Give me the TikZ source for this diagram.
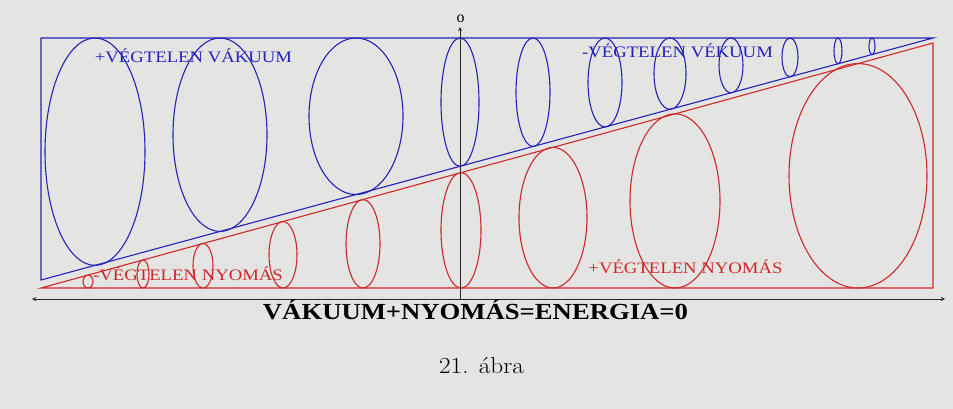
\documentclass[tikz,border=0pt]{standalone}
\usepackage{fontspec}
\setmainfont{Liberation Serif}
\newfontfamily\abrafont{Latin Modern Roman}
\definecolor{vakblue}{RGB}{35,35,185}
\definecolor{nyored}{RGB}{205,40,40}
\definecolor{paper}{RGB}{228,228,226}

\begin{document}
\begin{tikzpicture}[
    x=1pt, y=-1pt,
    vac/.style={draw=vakblue, line width=1.1pt},
    pres/.style={draw=nyored, line width=1.1pt},
    axis/.style={>=stealth, draw=black!85, line width=0.9pt},
    label/.style={anchor=base, inner sep=0pt, xscale=1.17, font=\fontsize{16}{18}\selectfont},
]
\fill[paper] (0,0) rectangle (953,409);
\useasboundingbox (0,0) rectangle (953,409);

% the two triangles
\draw[vac] (41,280) -- (41,38) -- (933,38) -- cycle;
\draw[pres] (41,288) -- (933,43) -- (933,288) -- cycle;

% vacuum ellipses, hanging from the top edge to the blue line
\foreach \cx/\rx in {95/50, 220/47, 356/47, 460/19, 533/17, 605/17, 670/16, 731/12, 790/8, 838/4, 872/3}{
  \pgfmathsetmacro\vbot{280-(\cx-41)/892*242}
  \draw[vac] (\cx,{(38+\vbot)/2}) ellipse [x radius=\rx, y radius={(\vbot-38)/2}];
}

% pressure ellipses, standing on the bottom edge up to the red line
\foreach \cx/\rx in {88/5, 143/6, 203/10, 283/14, 363/17, 461/20, 553/34, 675/45, 858/69}{
  \pgfmathsetmacro\ptop{288-(\cx-41)/892*245}
  \draw[pres] (\cx,{(288+\ptop)/2}) ellipse [x radius=\rx, y radius={(288-\ptop)/2}];
}

% axes
\coordinate (west) at (32,299);
\coordinate (east) at (945,299);
\coordinate (origin) at (460,299);
\coordinate (north) at (460,27);
\draw[axis, <->] (west) -- (east);
\draw[axis, ->] (origin) -- (north);
\node[anchor=base, inner sep=0pt, font=\fontsize{16}{18}\selectfont] (zero) at (460.5,23) {o};

% labels
\node[label, text=vakblue] (pvac) at (193.5,63) {+VÉGTELEN VÁKUUM};
\node[label, text=vakblue] (mvac) at (677.5,58) {-VÉGTELEN VÉKUUM};
\node[label, text=nyored] (mpres) at (188,280) {-VÉGTELEN NYOMÁS};
\node[label, text=nyored] (ppres) at (685.5,273) {+VÉGTELEN NYOMÁS};
\node[anchor=base, inner sep=0pt, xscale=1.16, font=\bfseries\fontsize{23}{26}\selectfont] (sum) at (475.5,319) {VÁKUUM+NYOMÁS=ENERGIA=0};
\node[anchor=base, inner sep=0pt, xscale=1.1, font=\abrafont\fontsize{23}{26}\selectfont] (caption) at (481.5,373) {21. ábra};
\end{tikzpicture}
\end{document}
